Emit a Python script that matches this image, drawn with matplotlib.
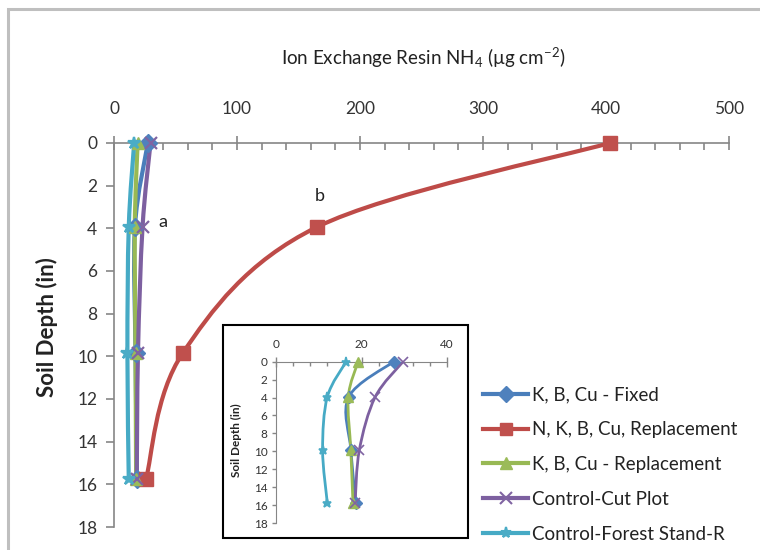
import matplotlib
matplotlib.use("Agg")
import matplotlib.pyplot as plt
import numpy as np
from matplotlib.path import Path
from matplotlib.patches import PathPatch, Rectangle
from matplotlib.lines import Line2D
from matplotlib.ticker import MultipleLocator

plt.rcParams['font.family'] = ['Lato', 'DejaVu Sans']
plt.rcParams['mathtext.fontset'] = 'custom'
plt.rcParams['mathtext.rm'] = 'Lato'
plt.rcParams['mathtext.it'] = 'Lato:italic'
plt.rcParams['mathtext.bf'] = 'Lato:bold'

# ---------------- data ----------------
depths = [0, 3.94, 9.84, 15.75]
fixed = [27.5, 17.0, 17.5, 18.7]
n_replacement = [403, 165, 56, 26]
replacement = [19.2, 16.9, 17.5, 18.0]
cut_plot = [29.7, 23.2, 19.5, 18.5]
forest_stand = [16.4, 12.0, 10.9, 12.0]

series_labels = ["K, B, Cu - Fixed", "N, K, B, Cu, Replacement",
                 "K, B, Cu - Replacement", "Control-Cut Plot",
                 "Control-Forest Stand-R"]
main_xticks = [0, 100, 200, 300, 400, 500]
inset_xticks = [0, 20, 40]
yticks = list(range(0, 19, 2))
x_title = "Ion Exchange Resin NH$_4$ (µg cm$^{-2}$)"
y_title = "Soil Depth (in)"
annotations = [("a", 40, 3.7), ("b", 167, 2.5)]

line_colors = ['#4A7EBB', '#BE4B48', '#98B954', '#7D60A0', '#46AAC5']
marker_colors = ['#4F81BD', '#C0504D', '#9BBB59', '#8064A2', '#4BACC6']
markers = ['D', 's', '^', 'x', '*']

W, H = 760, 550
fig = plt.figure(figsize=(W / 100, H / 100), dpi=100)

# outer chart border
fig.patches.append(Rectangle((8 / W, -0.1), 1.2, 1 - 9 / H + 0.1, transform=fig.transFigure,
                             fill=False, edgecolor='#BFBFBF', linewidth=2.2))


def smooth_path(ax, xs, ys):
    pts = ax.transData.transform(np.column_stack([xs, ys]))
    n = len(pts)
    verts = [pts[0]]
    codes = [Path.MOVETO]
    for i in range(n - 1):
        p0 = pts[i - 1] if i > 0 else pts[i]
        p1 = pts[i]
        p2 = pts[i + 1]
        p3 = pts[i + 2] if i + 2 < n else pts[i + 1]
        c1 = p1 + (p2 - p0) / 6.0
        c2 = p2 - (p3 - p1) / 6.0
        verts += [c1, c2, p2]
        codes += [Path.CURVE4] * 3
    verts = ax.transData.inverted().transform(np.array(verts))
    return Path(verts, codes)


def style_axes(ax, spine_color='#868686'):
    for s in ['right', 'bottom']:
        ax.spines[s].set_visible(False)
    for s in ['left', 'top']:
        ax.spines[s].set_color(spine_color)
    ax.xaxis.tick_top()
    ax.xaxis.set_label_position('top')
    ax.invert_yaxis()


# ---------------- main axes ----------------
ax = fig.add_axes([114 / W, 1 - 527 / H, (729 - 114) / W, (527 - 143) / H])
ax.set_xlim(0, 500)
ax.set_ylim(0, 18)
style_axes(ax)
ax.set_xticks(main_xticks)
ax.xaxis.set_minor_locator(MultipleLocator(20))
ax.set_yticks(yticks)
ax.tick_params(axis='x', which='major', direction='inout', length=10, width=1.2,
               color='#868686', labelsize=12.5, labelcolor='#333333', pad=14)
ax.tick_params(axis='x', which='minor', direction='in', length=5, width=1.2, color='#868686')
ax.tick_params(axis='y', which='major', direction='out', length=6, width=1.2,
               color='#868686', labelsize=12.5, labelcolor='#333333', pad=6)
for sp in ax.spines.values():
    sp.set_linewidth(1.2)

all_series = [fixed, n_replacement, replacement, cut_plot, forest_stand]
for vals, lc, mc, mk in zip(all_series, line_colors, marker_colors, markers):
    ax.add_patch(PathPatch(smooth_path(ax, vals, depths), fill=False, edgecolor=lc,
                           linewidth=3.0, zorder=3, capstyle='round'))
    ms = 10 if mk in ('s',) else 9
    ax.plot(vals, depths, linestyle='none', marker=mk, markersize=ms,
            markerfacecolor=mc, markeredgecolor=mc, markeredgewidth=1.6 if mk in ('x', '*') else 1,
            zorder=4, clip_on=False)

for txt, xv, yv in annotations:
    ax.text(xv, yv, txt, fontsize=13, color='#222222', ha='center', va='center')

fig.text(423 / W, 1 - 58 / H, x_title, fontsize=13.5, color='#222222', ha='center', va='center')
fig.text(47 / W, 1 - 327 / H, y_title, fontsize=16, fontweight='bold', color='#222222',
         ha='center', va='center', rotation=90)

# ---------------- inset ----------------
fig.patches.append(Rectangle((223 / W, 1 - 538 / H), (468 - 223) / W, (538 - 325) / H,
                             transform=fig.transFigure, fill=True, facecolor='white',
                             edgecolor='black', linewidth=1.5, zorder=5))
ax2 = fig.add_axes([276 / W, 1 - 523 / H, (447 - 276) / W, (523 - 361.7) / H], zorder=6)
ax2.patch.set_alpha(0)
ax2.set_xlim(0, 40)
ax2.set_ylim(0, 18)
style_axes(ax2)
ax2.set_xticks(inset_xticks)
ax2.xaxis.set_minor_locator(MultipleLocator(4))
ax2.set_yticks(yticks)
ax2.tick_params(axis='x', which='major', direction='inout', length=7, width=1,
                color='#868686', labelsize=8.5, labelcolor='#333333', pad=5)
ax2.tick_params(axis='x', which='minor', direction='in', length=3, width=1, color='#868686')
ax2.tick_params(axis='y', which='major', direction='out', length=3, width=1,
                color='#868686', labelsize=8.5, labelcolor='#333333', pad=3)

for idx, (vals, lc, mc, mk) in enumerate(zip(all_series, line_colors, marker_colors, markers)):
    if idx == 1:
        continue
    ax2.add_patch(PathPatch(smooth_path(ax2, vals, depths), fill=False, edgecolor=lc,
                            linewidth=2.0, zorder=3))
    ax2.plot(vals, depths, linestyle='none', marker=mk, markersize=6.5,
             markerfacecolor=mc, markeredgecolor=mc, markeredgewidth=1.2 if mk in ('x', '*') else 1,
             zorder=4, clip_on=False)

fig.text(236 / W, 1 - 440 / H, y_title, fontsize=8.5, fontweight='bold', color='#222222',
         ha='center', va='center', rotation=90, zorder=7)

# ---------------- legend ----------------
handles = [Line2D([], [], color=lc, linewidth=3, marker=mk, markersize=8,
                  markerfacecolor=mc, markeredgecolor=mc,
                  markeredgewidth=1.5 if mk in ('x', '*') else 1)
           for lc, mc, mk in zip(line_colors, marker_colors, markers)]
fig.legend(handles, series_labels, loc='upper left', bbox_to_anchor=(474 / W, 1 - 377 / H),
           frameon=False, fontsize=13.5, handlelength=2.4, handletextpad=0.2,
           labelspacing=0.95, borderpad=0, labelcolor='#222222')

fig.savefig("out.png", dpi=100)
